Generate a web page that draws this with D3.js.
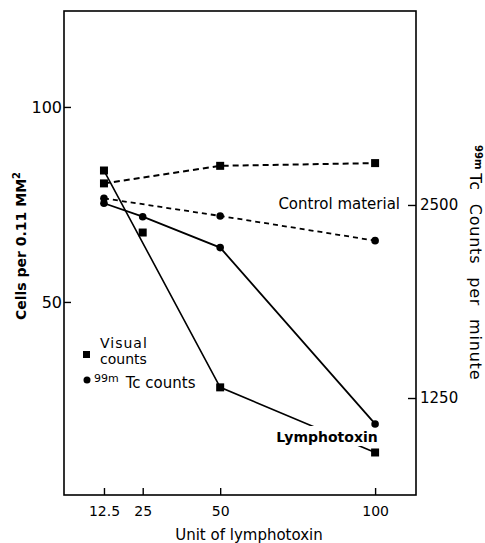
<!DOCTYPE html>
<html>
<head>
<meta charset="utf-8">
<script src="https://cdn.jsdelivr.net/npm/d3@7"></script>
<style>
  html, body { margin: 0; padding: 0; background: #fff; }
  svg text { font-family: "DejaVu Sans", sans-serif; fill: #000; }
</style>
</head>
<body>
<svg id="chart" width="485" height="543"></svg>
<script>
// data
const xTicks = [12.5, 25, 50, 100]
const leftTicks = [50, 100]
const rightTicks = [1250, 2500]

const controlDoses = [12.5, 50, 100]
const lymphoDoses = [12.5, 25, 50, 100]
const lymphoLineDoses = [12.5, 50, 100]   // the visual-count line skips the 25 point

const visualControl = [80.4, 84.9, 85.6]        // cells per 0.11 mm2
const tcControl = [2543, 2429, 2269]            // 99mTc counts per minute
const visualLympho = [83.7, 67.8, 28.1, 11.4]
const tcLympho = [2511, 2424, 2224, 1082]

const BOX = { left: 64, right: 416, top: 11, bottom: 495 }

const svg = d3.select('#chart')

const x = d3.scaleLinear().domain([-0.4, 113.2]).range([BOX.left, BOX.right])
const yLeft = d3.scaleLinear().domain([0.5, 124.6]).range([BOX.bottom, BOX.top])
const yRight = d3.scaleLinear().domain([622, 3756]).range([BOX.bottom, BOX.top])

const plain = (d) => String(d)

// frame
svg.append('rect')
  .attr('x', BOX.left).attr('y', BOX.top)
  .attr('width', BOX.right - BOX.left).attr('height', BOX.bottom - BOX.top)
  .attr('fill', 'none').attr('stroke', '#000').attr('stroke-width', 1.6)

// axes, ticks pointing inside the frame
const xAxis = svg.append('g')
  .attr('transform', 'translate(0,' + BOX.bottom + ')')
  .call(d3.axisBottom(x).tickValues(xTicks).tickFormat(plain).tickSizeInner(-7).tickSizeOuter(0))
const lAxis = svg.append('g')
  .attr('transform', 'translate(' + BOX.left + ',0)')
  .call(d3.axisLeft(yLeft).tickValues(leftTicks).tickFormat(plain).tickSizeInner(-7).tickSizeOuter(0).tickPadding(2))
const rAxis = svg.append('g')
  .attr('transform', 'translate(' + BOX.right + ',0)')
  .call(d3.axisRight(yRight).tickValues(rightTicks).tickFormat(plain).tickSizeInner(-8).tickSizeOuter(0).tickPadding(4))

;[xAxis, lAxis, rAxis].forEach( (g) => {
  g.select('.domain').remove()
  g.selectAll('line').attr('stroke', '#000').attr('stroke-width', 1.4)
  g.selectAll('text').attr('font-family', '"DejaVu Sans", sans-serif').attr('fill', '#000')
})
xAxis.selectAll('.tick text').attr('font-size', 14).attr('y', 11).attr('dy', '0.71em')
lAxis.selectAll('text').attr('font-size', 16)
rAxis.selectAll('text').attr('font-size', 15)

// series
function pairs(doses, values) {
  return doses.map( (d, i) => ({ dose: d, value: values[i] }) )
}

const visCtrl = pairs(controlDoses, visualControl)
const tcCtrl = pairs(controlDoses, tcControl)
const visLym = pairs(lymphoDoses, visualLympho)
const tcLym = pairs(lymphoDoses, tcLympho)

const lineL = d3.line().x( (d) => x(d.dose) ).y( (d) => yLeft(d.value) )
const lineR = d3.line().x( (d) => x(d.dose) ).y( (d) => yRight(d.value) )

const lines = svg.append('g')
const labels = svg.append('g')
const marks = svg.append('g')

lines.append('path').attr('d', lineL(visCtrl))
  .attr('fill', 'none').attr('stroke', '#000').attr('stroke-width', 2).attr('stroke-dasharray', '6,4')
lines.append('path').attr('d', lineR(tcCtrl))
  .attr('fill', 'none').attr('stroke', '#000').attr('stroke-width', 1.8).attr('stroke-dasharray', '5,4')
lines.append('path').attr('d', lineL(visLym.filter( (d) => lymphoLineDoses.includes(d.dose) )))
  .attr('fill', 'none').attr('stroke', '#000').attr('stroke-width', 1.6)
lines.append('path').attr('d', lineR(tcLym))
  .attr('fill', 'none').attr('stroke', '#000').attr('stroke-width', 1.8)

function squares(data, y) {
  marks.append('g').selectAll('rect').data(data).join('rect')
    .attr('x', (d) => x(d.dose) - 4).attr('y', (d) => y(d.value) - 4)
    .attr('width', 8).attr('height', 8).attr('fill', '#000')
}
function dots(data, y) {
  marks.append('g').selectAll('circle').data(data).join('circle')
    .attr('cx', (d) => x(d.dose)).attr('cy', (d) => y(d.value))
    .attr('r', 3.8).attr('fill', '#000')
}
squares(visCtrl, yLeft)
squares(visLym, yLeft)
dots(tcCtrl, yRight)
dots(tcLym, yRight)

// curve labels
labels.append('text')
  .attr('x', 400).attr('y', 209)
  .attr('text-anchor', 'end').attr('font-size', 15)
  .text('Control material')

const lymLabel = labels.append('text')
  .attr('x', 327).attr('y', 442)
  .attr('text-anchor', 'middle').attr('font-size', 14).attr('font-weight', 'bold')
  .text('Lymphotoxin')
const bb = lymLabel.node().getBBox()
labels.insert('rect', () => lymLabel.node())
  .attr('x', bb.x - 3).attr('y', bb.y - 3)
  .attr('width', bb.width + 6).attr('height', bb.height + 4)
  .attr('fill', '#fff')

// legend
svg.append('rect').attr('x', 83).attr('y', 351).attr('width', 7).attr('height', 7).attr('fill', '#000')
svg.append('circle').attr('cx', 87).attr('cy', 380).attr('r', 3.5).attr('fill', '#000')
svg.append('text').attr('x', 100).attr('y', 348).attr('font-size', 14).attr('letter-spacing', 1).text('Visual')
svg.append('text').attr('x', 100).attr('y', 364).attr('font-size', 14).text('counts')
const tcLeg = svg.append('text').attr('x', 94).attr('y', 383).attr('font-size', 15)
tcLeg.append('tspan').attr('font-size', 11).attr('dy', -1).text('99m')
tcLeg.append('tspan').attr('dy', 6).attr('dx', 7).text('Tc counts')

// axis titles
svg.append('text')
  .attr('transform', 'translate(26,246) rotate(-90)')
  .attr('text-anchor', 'middle').attr('font-size', 14).attr('font-weight', 'bold')
  .call( (t) => {
    t.append('tspan').text('Cells per 0.11 MM')
    t.append('tspan').attr('font-size', 10).attr('dy', -6).text('2')
  })

svg.append('text')
  .attr('transform', 'translate(470,145) rotate(90)')
  .attr('font-size', 16).attr('word-spacing', 7)
  .call( (t) => {
    t.append('tspan').attr('font-size', 10).attr('dy', -5).attr('font-weight', 'bold').text('99m')
    t.append('tspan').attr('dy', 5).attr('dx', 4).attr('letter-spacing', 0.8).text('Tc Counts per minute')
  })

svg.append('text')
  .attr('x', 249).attr('y', 540)
  .attr('text-anchor', 'middle').attr('font-size', 15)
  .text('Unit of lymphotoxin')
</script>
</body>
</html>
